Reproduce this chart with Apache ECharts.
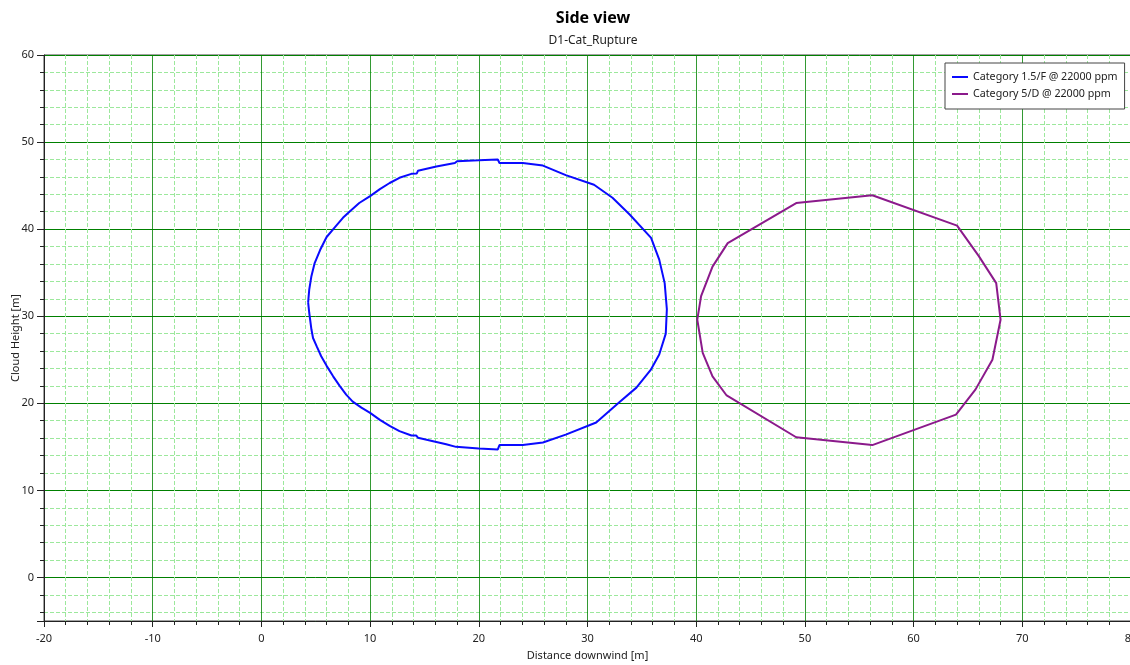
<!DOCTYPE html>
<html>
<head>
<meta charset="utf-8">
<script src="https://cdn.jsdelivr.net/npm/echarts@6/dist/echarts.min.js"></script>
<style>
html,body{margin:0;padding:0;background:#fff;}
#chart{width:1130px;height:665px;}
</style>
</head>
<body>
<div id="chart"></div>
<script>
var titleText = 'Side view';
var subtitleText = 'D1-Cat_Rupture';
var xName = 'Distance downwind [m]';
var yName = 'Cloud Height [m]';
var seriesNames = ['Category 1.5/F @ 22000 ppm', 'Category 5/D @ 22000 ppm'];

var blueX = [4.3,4.4,4.6,4.9,5.4,6.0,6.75,7.5,8.1,9.0,10.0,10.9,11.8,12.7,13.8,14.3,14.4,16.1,17.8,18.0,20.0,21.75,21.9,24.05,25.9,28.0,30.6,32.3,33.9,35.85,36.6,37.1,37.3,37.2,36.6,35.85,34.5,32.9,30.8,28.0,25.9,24.05,21.9,21.75,20.0,17.9,17.8,17.0,14.4,14.25,13.8,12.7,11.8,10.9,10.0,9.2,8.4,7.8,7.2,6.6,6.0,5.5,5.1,4.75,4.6,4.4,4.3];
var blueY = [31.6,33.05,34.6,36.1,37.6,39.1,40.2,41.3,42.0,43.0,43.8,44.6,45.3,45.9,46.35,46.4,46.7,47.2,47.6,47.8,47.9,48.0,47.6,47.6,47.3,46.2,45.1,43.6,41.65,39.0,36.5,33.8,30.8,28.0,25.6,23.9,21.8,20.1,17.8,16.4,15.5,15.2,15.2,14.7,14.8,15.0,15.2,15.3,16.05,16.3,16.3,16.8,17.4,18.1,18.9,19.5,20.2,21.0,22.0,23.1,24.3,25.4,26.5,27.5,28.5,30.4,31.6];

var purpleX = [56.2,64.0,66.0,67.6,68.0,67.25,65.7,63.9,56.2,49.2,42.8,41.5,40.6,40.1,40.45,41.5,42.9,49.2,56.2];
var purpleY = [43.9,40.4,36.9,33.8,29.6,25.0,21.6,18.7,15.2,16.1,20.9,23.1,25.8,29.6,32.3,35.7,38.4,43.0,43.9];

var xMin = -20, xMax = 80, xStep = 10;
var yMin = -5, yMax = 60;

function zip(xs, ys){ var r=[]; for(var i=0;i<xs.length;i++) r.push([xs[i], ys[i]]); return r; }

var chart = echarts.init(document.getElementById('chart'), null, {renderer:'canvas'});
var font = 'Noto Sans';
var axisCommon = {
  axisLine: {show:true, onZero:false, lineStyle:{color:'#222', width:1}},
  axisTick: {show:true, inside:false, length:7, lineStyle:{color:'#222'}},
  minorTick: {show:true, splitNumber:5, length:4, lineStyle:{color:'#222'}},
  minorSplitLine: {show:true, lineStyle:{color:'#9ce89c', type:[4,2], width:1}},
  nameLocation: 'middle',
  nameMoveOverlap: false,
  nameTextStyle: {fontFamily:font, fontSize:11, color:'#222'},
  axisLabel: {fontFamily:font, fontSize:11, color:'#222'}
};

var option = {
  animation: false,
  backgroundColor: '#fff',
  title: {
    text: titleText, subtext: subtitleText,
    left: 588, top: 5, textAlign: 'center', itemGap: 9,
    textStyle: {fontFamily:font, fontSize:16, fontWeight:'bold', color:'#000'},
    subtextStyle: {fontFamily:font, fontSize:12, color:'#222'}
  },
  legend: {
    left: 945, top: 63, orient: 'vertical',
    backgroundColor: '#fff', borderColor: '#444', borderWidth: 1,
    padding: [7,7,8,7], itemGap: 3, itemWidth: 16, itemHeight: 2, icon: 'rect',
    textStyle: {fontFamily:font, fontSize:10.7, color:'#222', lineHeight:14},
    data: seriesNames
  },
  grid: {left:44, right:-1, top:55, bottom:44, show:true, borderColor:'#444', borderWidth:1, containLabel:false, outerBoundsMode:'none'},
  xAxis: Object.assign({}, axisCommon, {
    type:'value', min:xMin, max:xMax, interval:xStep,
    name: xName, nameGap: 29,
    axisLabel: Object.assign({}, axisCommon.axisLabel, {margin:12}),
    axisTick: {show:true, length:6, lineStyle:{color:'#222'}},
    splitLine: {show:true, lineStyle:{color:'rgba(0,128,0,0.8)', width:1}}
  }),
  yAxis: Object.assign({}, axisCommon, {
    type:'value', min:yMin, max:yMax, splitNumber:5,
    name: yName, nameGap: 23,
    axisLabel: Object.assign({}, axisCommon.axisLabel, {margin:10, showMinLabel:false, formatter:function(v){return v===yMin?'':String(v);}}),
    splitLine: {show:true, lineStyle:{color:'#008000', width:1}}
  }),
  series: [
    {name:seriesNames[0], type:'line', data:zip(blueX, blueY), showSymbol:false, symbol:'none', smooth:false,
     lineStyle:{color:'#0a0aff', width:2}, itemStyle:{color:'#0a0aff'}, z:5},
    {name:seriesNames[1], type:'line', data:zip(purpleX, purpleY), showSymbol:false, symbol:'none', smooth:false,
     lineStyle:{color:'#8b1a8b', width:2}, itemStyle:{color:'#8b1a8b'}, z:5}
  ]
};
chart.setOption(option);
</script>
</body>
</html>
